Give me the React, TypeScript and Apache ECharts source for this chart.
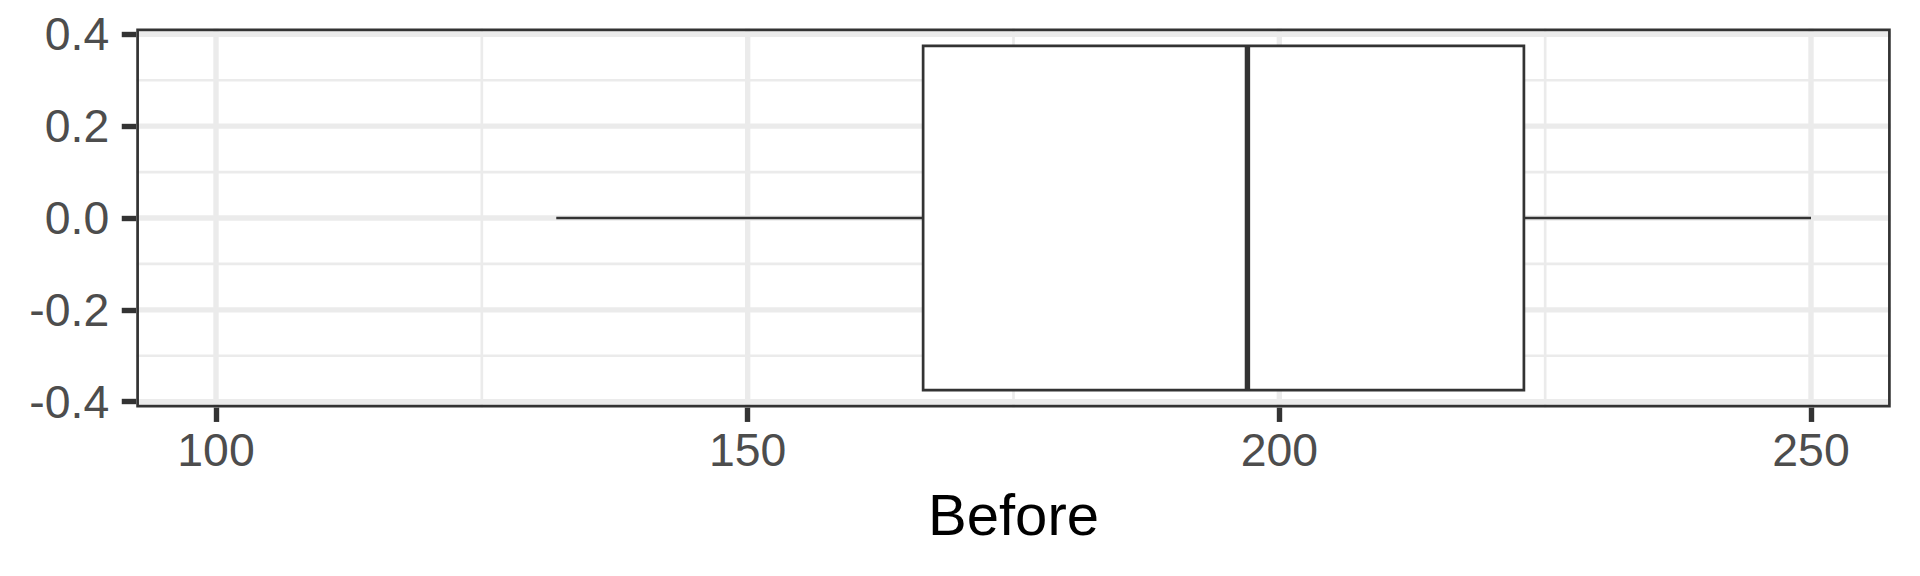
import React, { useEffect, useRef } from "react";
import * as echarts from "echarts";

// ---- Data ----
// five-number summary of "Before": [lower whisker, Q1, median, Q3, upper whisker]
const boxStats: number[] = [132, 166.5, 197, 223, 250];
const xMajorTicks: number[] = [100, 150, 200, 250];
const xMinorTicks: number[] = [125, 175, 225];
const yMajorTicks: number[] = [-0.4, -0.2, 0, 0.2, 0.4];
const yMinorTicks: number[] = [-0.3, -0.1, 0.1, 0.3];
const xAxisTitle = "Before";

// axis limits (ggplot-style 5% expansion)
const X_MIN = 92.5;
const X_MAX = 257.5;
const Y_MIN = -0.4125;
const Y_MAX = 0.4125;
const BOX_HALF = 0.375;

const FONT = "'Liberation Sans', Arial, Helvetica, sans-serif";
const DARK = "#333333";
const GRIDC = "#EBEBEB";

export default function App() {
  const ref = useRef<HTMLDivElement>(null);

  useEffect(() => {
    if (!ref.current) return;
    const chart = echarts.init(ref.current, null, { renderer: "svg" });

    const vLines = (width: number) => (params: any, api: any) => {
      const cs = params.coordSys;
      const x = api.coord([api.value(0), 0])[0];
      return {
        type: "line",
        shape: { x1: x, y1: cs.y, x2: x, y2: cs.y + cs.height },
        style: { stroke: GRIDC, lineWidth: width },
      };
    };
    const hLines = (width: number) => (params: any, api: any) => {
      const cs = params.coordSys;
      const y = api.coord([150, api.value(0)])[1];
      return {
        type: "line",
        shape: { x1: cs.x, y1: y, x2: cs.x + cs.width, y2: y },
        style: { stroke: GRIDC, lineWidth: width },
      };
    };

    const option: any = {
      animation: false,
      backgroundColor: "#ffffff",
      grid: {
        left: 136.25,
        right: 29.25,
        top: 28.56,
        bottom: 168.56,
        containLabel: false,
        outerBoundsMode: "none",
      },
      xAxis: {
        type: "value",
        min: X_MIN,
        max: X_MAX,
        name: xAxisTitle,
        nameLocation: "middle",
        nameGap: 78.5,
        nameTextStyle: { fontFamily: FONT, fontSize: 58, color: "#000000" },
        axisLine: { show: false, onZero: false },
        splitLine: { show: false },
        axisTick: {
          show: true,
          customValues: xMajorTicks,
          length: 14.5,
          lineStyle: { color: DARK, width: 5.4 },
        },
        axisLabel: {
          customValues: xMajorTicks,
          margin: 20,
          fontFamily: FONT,
          fontSize: 46.4,
          color: "#4D4D4D",
          formatter: (v: number) => String(v),
        },
      },
      yAxis: {
        type: "value",
        min: Y_MIN,
        max: Y_MAX,
        axisLine: { show: false, onZero: false },
        splitLine: { show: false },
        axisTick: {
          show: true,
          customValues: yMajorTicks,
          length: 14.5,
          lineStyle: { color: DARK, width: 5.4 },
        },
        axisLabel: {
          customValues: yMajorTicks,
          margin: 27,
          fontFamily: FONT,
          fontSize: 46.4,
          color: "#4D4D4D",
          formatter: (v: number) => v.toFixed(1),
        },
      },
      series: [
        { type: "custom", z: 1, silent: true, clip: false, data: xMinorTicks.map((v) => [v]), renderItem: vLines(2.7) },
        { type: "custom", z: 1, silent: true, clip: false, data: yMinorTicks.map((v) => [v]), renderItem: hLines(2.7) },
        { type: "custom", z: 1, silent: true, clip: false, data: xMajorTicks.map((v) => [v]), renderItem: vLines(5.4) },
        { type: "custom", z: 1, silent: true, clip: false, data: yMajorTicks.map((v) => [v]), renderItem: hLines(5.4) },
        {
          type: "custom",
          z: 2,
          silent: true,
          clip: false,
          data: [boxStats],
          renderItem: (params: any, api: any) => {
            const lo = api.value(0), q1 = api.value(1), med = api.value(2), q3 = api.value(3), hi = api.value(4);
            const [xLo, y0] = api.coord([lo, 0]);
            const [xQ1, yTop] = api.coord([q1, BOX_HALF]);
            const [xMed] = api.coord([med, 0]);
            const [xQ3, yBot] = api.coord([q3, -BOX_HALF]);
            const [xHi] = api.coord([hi, 0]);
            return {
              type: "group",
              children: [
                { type: "line", shape: { x1: xLo, y1: y0, x2: xQ1, y2: y0 }, style: { stroke: DARK, lineWidth: 2.7 } },
                { type: "line", shape: { x1: xQ3, y1: y0, x2: xHi, y2: y0 }, style: { stroke: DARK, lineWidth: 2.7 } },
                {
                  type: "rect",
                  shape: { x: xQ1, y: yTop, width: xQ3 - xQ1, height: yBot - yTop },
                  style: { fill: "#ffffff", stroke: DARK, lineWidth: 2.7 },
                },
                { type: "line", shape: { x1: xMed, y1: yTop, x2: xMed, y2: yBot }, style: { stroke: DARK, lineWidth: 5.4 } },
              ],
            };
          },
        },
        {
          type: "custom",
          z: 3,
          silent: true,
          clip: false,
          data: [[0]],
          renderItem: (params: any) => {
            const cs = params.coordSys;
            return {
              type: "rect",
              shape: { x: cs.x + 1.35, y: cs.y + 1.35, width: cs.width - 2.7, height: cs.height - 2.7 },
              style: { fill: "none", stroke: DARK, lineWidth: 2.7 },
            };
          },
        },
      ],
    };

    chart.setOption(option);
    return () => chart.dispose();
  }, []);

  return (
    <div
      ref={ref}
      style={{ position: "absolute", left: 0, top: 0, width: 1920, height: 576, background: "#ffffff" }}
    />
  );
}
